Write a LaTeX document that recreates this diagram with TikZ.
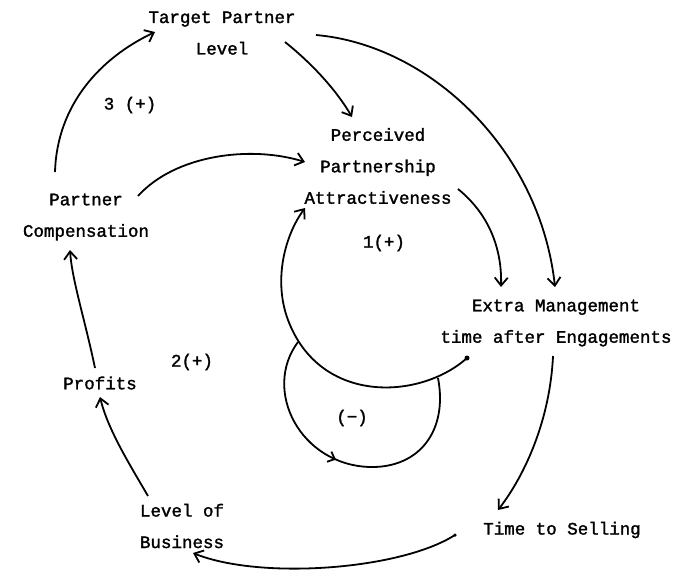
\documentclass[tikz,border=0pt]{standalone}
\usepackage{fontspec}
\setmainfont{Liberation Mono}[FakeBold=1.6]
\usetikzlibrary{arrows.meta,decorations.markings}
\tikzset{
  lbl/.style={inner sep=0pt, align=center, font=\fontsize{17.5}{31.5}\selectfont},
  loopl/.style={inner sep=0pt, font=\fontsize{17.5}{20}\selectfont},
  conn/.style={line width=1.8pt, -{Straight Barb[length=8pt,width=13pt,line width=1.8pt]}},
  plain/.style={line width=1.8pt},
  enddot/.style={circle, fill=black, inner sep=0pt, minimum size=5pt}
}
\begin{document}
\begin{tikzpicture}[x=1pt,y=-1pt]
\useasboundingbox (0,0) rectangle (676,574);
% concepts
\node[lbl] (tpl)  at (222,33)  {Target Partner\\Level};
\node[lbl] (ppa)  at (378,166) {Perceived\\Partnership\\Attractiveness};
\node[lbl] (pc)   at (86,217)  {Partner\\Compensation};
\node[lbl] (emt)  at (556,323) {Extra Management\\time after Engagements};
\node[lbl] (prof) at (100,383) {Profits};
\node[lbl] (lob)  at (182,526) {Level of\\Business};
\node[lbl] (tts)  at (562,530) {Time to Selling};
% loop labels
\node[loopl] (l3) at (130,105) {3 (+)};
\node[loopl] (l1) at (384,243) {1(+)};
\node[loopl] (l2) at (192,362) {2(+)};
\node[loopl] (lm) at (352,418) {(−)};
% connector end points
\coordinate (pcA) at (55,172);   \coordinate (tplA) at (155,32);
\coordinate (tplB) at (285,42);  \coordinate (ppaA) at (352,117);
\coordinate (tplC) at (316,35);  \coordinate (emtA) at (555,287);
\coordinate (pcB) at (138,196);  \coordinate (ppaB) at (305,162);
\coordinate (ppaC) at (458,189); \coordinate (emtB) at (501,287);
\coordinate (emtC) at (467,358); \coordinate (ppaD) at (305,208);
\coordinate (bigL) at (288,320);
\coordinate (negA) at (298,342); \coordinate (negB) at (438,378);
\coordinate (negM) at (370,467);
\coordinate (emtD) at (553,356); \coordinate (ttsA) at (498,510);
\coordinate (ttsB) at (455,535); \coordinate (lobA) at (193,553);
\coordinate (lobB) at (148,496); \coordinate (profA) at (100,397);
\coordinate (profB) at (95,368); \coordinate (pcC) at (70,250);
% connectors
\draw[conn] (pcA) .. controls (57,105) and (100,58) .. (tplA);
\draw[conn] (tplB) .. controls (310,62) and (335,88) .. (ppaA);
\draw[conn] (tplC) .. controls (430,45) and (540,150) .. (emtA);
\draw[conn] (pcB) .. controls (175,155) and (250,145) .. (ppaB);
\draw[conn] (ppaC) .. controls (490,215) and (502,250) .. (emtB);
\draw[conn] (emtC) .. controls (420,400) and (320,405) .. (bigL)
            .. controls (273,280) and (285,235) .. (ppaD);
\node[enddot] (dot) at (emtC) {};
\draw[plain, postaction={decorate}, decoration={markings,
      mark=at position 0.46 with {\arrow{Straight Barb[length=6pt,width=11pt,line width=1.8pt]}}}]
  (negA) .. controls (262,390) and (300,465) .. (negM)
         .. controls (420,468) and (448,430) .. (negB);
\draw[conn] (emtD) .. controls (550,420) and (525,475) .. (ttsA);
\draw[conn] (ttsB) .. controls (400,570) and (260,580) .. (lobA);
\node[enddot, minimum size=3.5pt] (dot2) at (ttsB) {};
\draw[conn] (lobB) .. controls (130,465) and (108,430) .. (profA);
\draw[conn] (profB) .. controls (85,320) and (72,280) .. (pcC);
\end{tikzpicture}
\end{document}
